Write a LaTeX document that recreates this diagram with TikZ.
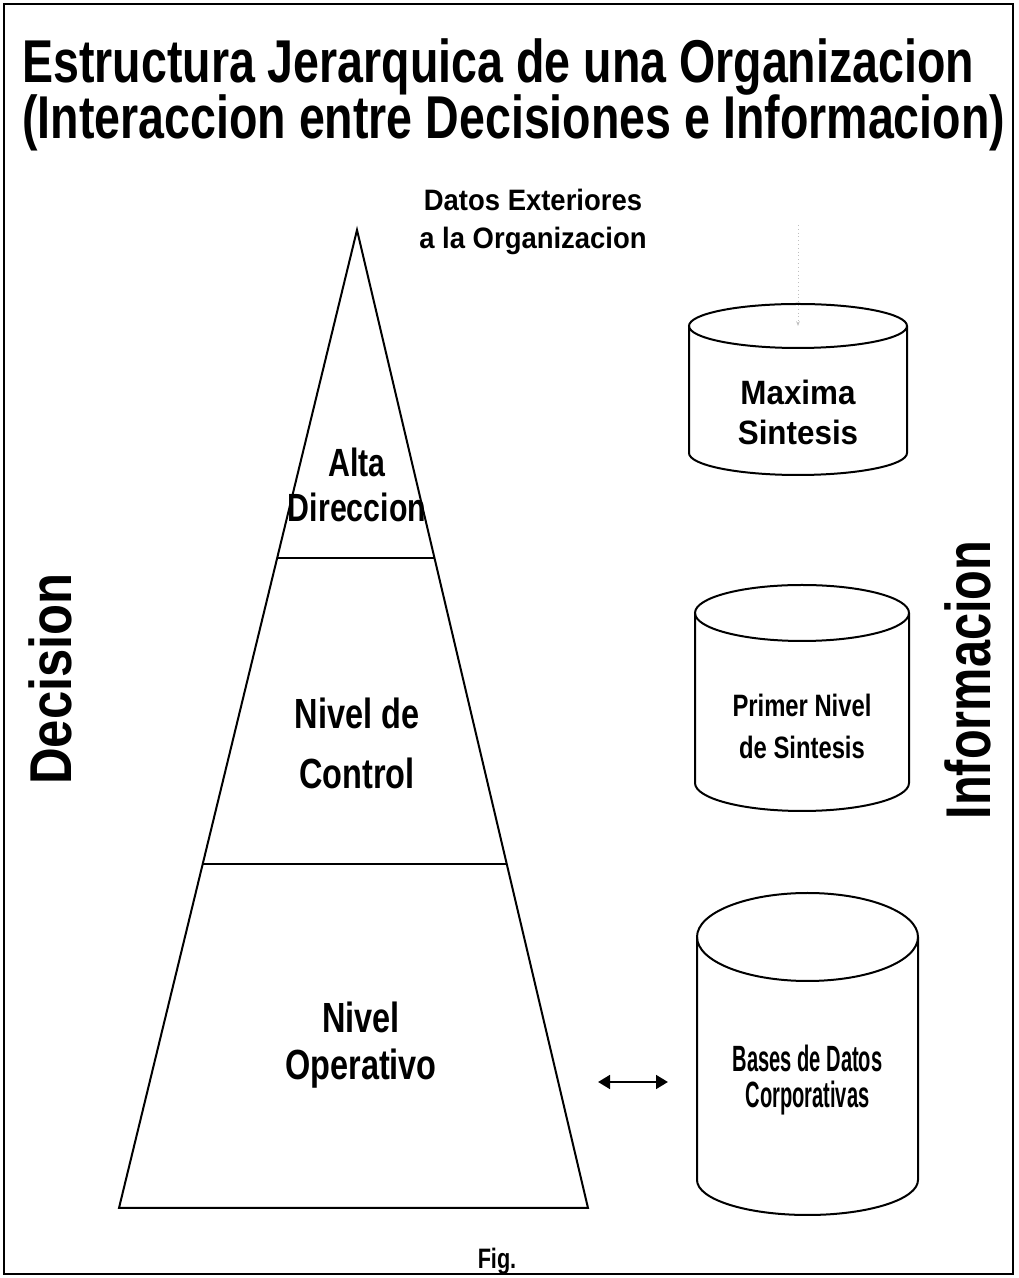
\documentclass[tikz,border=0pt]{standalone}
\usepackage{fontspec}
\setmainfont{Liberation Sans}
\newfontfamily\figfont[FakeStretch=0.77]{Liberation Sans}
\newfontfamily\figmidfont[FakeStretch=0.86]{Liberation Sans}
\newfontfamily\figwidefont[FakeStretch=0.93]{Liberation Sans}
\newfontfamily\fignarrowfont[FakeStretch=0.55]{Liberation Sans}
\usetikzlibrary{calc,arrows.meta}

\tikzset{
  outline/.style={line width=0.050cm},
  label/.style={align=center, inner sep=0pt},
}

\begin{document}
\begin{tikzpicture}
            \useasboundingbox (0,0) rectangle (25.450000,31.950000);%

            % Frame around everything
            \draw [line width=0.060cm] (0.100000,0.100000) rectangle (25.325000,31.850000);%

            % Title, two lines
            \node (title1) [label, anchor=base west, font=\figfont\bfseries\fontsize{43}{50}\selectfont] at (0.550000,29.875000) {Estructura Jerarquica de una Organizacion};%
            \node (title2) [label, anchor=base west, font=\figfont\bfseries\fontsize{43}{50}\selectfont] at (0.550000,28.475000) {(Interaccion entre Decisiones e Informacion)};%

            % Side captions
            \node (decision) [label, rotate=90, font=\figmidfont\bfseries\fontsize{42}{48}\selectfont] at (1.250000,14.975000) {Decision};%
            \node (informacion) [label, rotate=90, font=\figfont\bfseries\fontsize{45}{50}\selectfont] at (24.200000,14.950000) {Informacion};%

            % Drawing the pyramid
            \coordinate (apex) at (8.925000,26.200000);%
            \coordinate (baseL) at (2.975000,1.750000);%
            \coordinate (baseR) at (14.700000,1.750000);%
            \draw [outline] (apex) -- (baseL) -- (baseR) -- cycle;%

            % Drawing the level separators
            \draw [outline] ($(apex)!0.335380!(baseL)$) -- ($(apex)!0.335380!(baseR)$);%
            \draw [outline] ($(apex)!0.648260!(baseL)$) -- ($(apex)!0.648260!(baseR)$);%

            % Marking the levels
            \node (alta) [label, font=\figfont\bfseries\fontsize{28}{32}\selectfont] at (8.925000,19.837500) {Alta\\Direccion};%
            \node (control) [label, font=\figfont\bfseries\fontsize{30}{43}\selectfont] at (8.925000,13.362500) {Nivel de\\Control};%
            \node (operativo) [label, font=\figfont\bfseries\fontsize{30}{33}\selectfont] at (9.025000,5.825000) {Nivel\\Operativo};%

            % Outside data
            \node (exterior) [label, font=\figwidefont\bfseries\fontsize{21}{27}\selectfont] at (13.325000,26.400000) {Datos Exteriores\\a la Organizacion};%

            % Drawing cylinder for maxima sintesis
            \draw [outline] (17.225000,23.800000) -- (17.225000,20.625000) arc [start angle=180, end angle=360, x radius=2.725000, y radius=0.550000] -- (22.675000,23.800000);%
            \draw [outline] (19.950000,23.800000) ellipse [x radius=2.725000, y radius=0.550000];%
            \coordinate (maxtop) at (19.950000,23.800000);%
            \node (maxima) [label, font=\figwidefont\bfseries\fontsize{24}{29}\selectfont] at (19.950000,21.637500) {Maxima\\Sintesis};%

            % Drawing cylinder for primer nivel
            \draw [outline] (17.375000,16.625000) -- (17.375000,12.375000) arc [start angle=180, end angle=360, x radius=2.675000, y radius=0.700000] -- (22.725000,16.625000);%
            \draw [outline] (20.050000,16.625000) ellipse [x radius=2.675000, y radius=0.700000];%
            \node (primer) [label, font=\figfont\bfseries\fontsize{22}{30.5}\selectfont] at (20.050000,13.787500) {Primer Nivel\\de Sintesis};%

            % Drawing cylinder for bases de datos
            \draw [outline] (17.425000,8.525000) -- (17.425000,2.450000) arc [start angle=180, end angle=360, x radius=2.762500, y radius=0.875000] -- (22.950000,8.525000);%
            \draw [outline] (20.187500,8.525000) ellipse [x radius=2.762500, y radius=1.100000];%
            \node (bases) [label, font=\fignarrowfont\bfseries\fontsize{26}{26}\selectfont] at (20.187500,4.950000) {Bases de Datos\\Corporativas};%

            % Link between exterior data and top store
            \coordinate (extsrc) at (19.950000,26.325000);%
            \draw [gray!50, dotted, line width=0.025cm, -{Stealth[length=0.12cm]}] (extsrc) -- (maxtop);%

            % Link between operative level and data bases
            \coordinate (opside) at (14.950000,4.900000);%
            \coordinate (dbside) at (16.700000,4.900000);%
            \draw [line width=0.070cm, {Triangle[length=0.30cm,width=0.34cm]}-{Triangle[length=0.30cm,width=0.34cm]}] (opside) -- (dbside);%

            % Caption
            \node (fig) [label, font=\figfont\bfseries\fontsize{20}{24}\selectfont] at (12.425000,0.425000) {Fig.};%
\end{tikzpicture}
\end{document}
